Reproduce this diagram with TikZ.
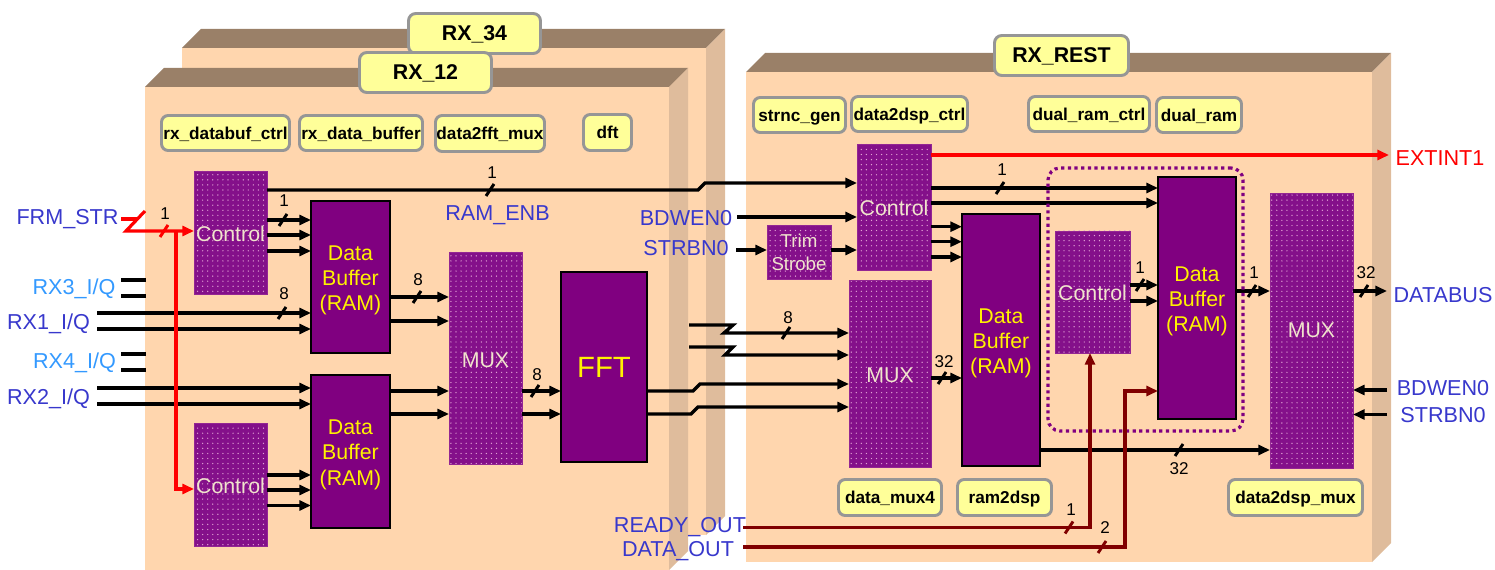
\documentclass[tikz,border=0pt]{standalone}
\usepackage{fontspec}
\setmainfont{Liberation Sans}
\usetikzlibrary{arrows.meta,patterns.meta}
\definecolor{peach}{HTML}{FFD6AE}
\definecolor{panelTop}{HTML}{9A8068}
\definecolor{panelSide}{HTML}{DFBC9C}
\definecolor{blockPurple}{HTML}{800080}
\definecolor{dotBase}{HTML}{84108A}
\definecolor{dotLight}{HTML}{E2A4D4}
\definecolor{labelYellow}{HTML}{FFFF99}
\definecolor{labelGray}{HTML}{969696}
\definecolor{sigBlue}{HTML}{3838CC}
\definecolor{sigLight}{HTML}{3399FF}
\definecolor{softText}{HTML}{F0E4CC}
\definecolor{darkRed}{HTML}{800000}
\tikzset{
  solidblock/.style={draw=black,line width=1.1pt,fill=blockPurple,text=yellow,align=center,inner sep=0pt,outer sep=0pt,
    font=\fontsize{16}{19}\selectfont},
  dotblock/.style={draw=blockPurple!85!white,line width=.4pt,preaction={fill=dotBase},
    pattern={Dots[radius=.52pt,distance=3.8pt]},pattern color=dotLight,
    inner sep=0pt,outer sep=0pt,align=center,text=softText,font=\fontsize{16}{17.5}\selectfont},
  tag/.style={draw=labelGray,line width=2.2pt,fill=labelYellow,rounded corners=5pt,inner sep=0pt,outer sep=0pt,
    font=\fontsize{12.9}{15}\bfseries\selectfont,text=black,text height=9.4pt,text depth=0pt},
  bigtag/.style={tag,rounded corners=5.5pt,font=\fontsize{16}{19}\bfseries\selectfont,text height=11.2pt},
  sig/.style={anchor=base,inner sep=0pt,text=sigBlue,font=\fontsize{16.2}{19}\selectfont},
  siglight/.style={sig,text=sigLight},
  sigred/.style={sig,text=red},
  bus/.style={anchor=base,inner sep=0pt,font=\fontsize{12.8}{15}\selectfont,text=black},
  wire/.style={draw=black,line width=2.5pt},
  wirea/.style={wire,-{Triangle[length=8.7pt,width=7.4pt]}},
  thinwirea/.style={wirea,line width=2.3pt},
  redwire/.style={wirea,draw=red,line width=2.4pt},
  brownwire/.style={wirea,draw=darkRed,line width=2.3pt},
  slash/.style={draw=black,line width=2.2pt},
  redslash/.style={slash,draw=red},
  brownslash/.style={slash,draw=darkRed},
  dottedbox/.style={draw=blockPurple,line width=2.4pt,rounded corners=9pt,dash pattern=on 2.4pt off 2.6pt,inner sep=0pt,outer sep=0pt},
}
\newcommand{\dbtext}{\rule{0pt}{16pt}Data\\Buffer\\(RAM)}
\newcommand{\ctext}{\rule{0pt}{13pt}Control}
% name x1 y1 x2 y2 style text
\newcommand{\blockn}[7]{\node[#6,minimum width={(#4-#2)*0.75pt},minimum height={(#5-#3)*0.75pt}] (#1) at ({(#2+#4)/2},{(#3+#5)/2}) {#7};}
\newcommand{\tagn}[7]{\node[#6,minimum width={(#4-#2-3)*0.75pt},minimum height={(#5-#3-3)*0.75pt}] (#1) at ({(#2+#4)/2},{(#3+#5)/2}) {#7};}
\newcommand{\panel}[4]{% x1 top x2 bottom, offset 19
  \fill[panelTop] (#1,#2) -- ++(19,-19) -- ({#3+19},{#2-19}) -- (#3,#2) -- cycle;
  \fill[panelSide] (#3,#2) -- ++(19,-19) -- ({#3+19},{#4-19}) -- (#3,#4) -- cycle;
  \fill[peach] (#1,#2) rectangle (#3,#4);}
\newcommand{\slashat}[3][slash]{\path[#1] (#2,#3) ++(-4,6) -- ++(8,-12);}
\begin{document}
\begin{tikzpicture}[x=0.75pt,y=-0.75pt]
\useasboundingbox (0,0) rectangle (1495,570);
% panels
\panel{182}{48}{706}{535}
\tagn{rx34}{407}{12}{542}{55}{bigtag}{RX\_34}
\panel{145}{87}{669}{570}
\tagn{rx12}{358}{51}{493}{94}{bigtag}{RX\_12}
\panel{746}{72}{1372}{562}
\tagn{rxrest}{993}{34}{1130}{77}{bigtag}{RX\_REST}
% module tags
\tagn{t1}{160}{114}{291}{152}{tag}{rx\_databuf\_ctrl}
\tagn{t2}{298}{114}{424}{152}{tag}{rx\_data\_buffer}
\tagn{t3}{434}{114}{546}{153}{tag}{data2fft\_mux}
\tagn{t4}{582}{113}{633}{152}{tag}{dft}
\tagn{t5}{752}{96}{847}{134}{tag}{strnc\_gen}
\tagn{t6}{850}{95}{969}{133}{tag}{data2dsp\_ctrl}
\tagn{t7}{1027}{95}{1151}{133}{tag}{dual\_ram\_ctrl}
\tagn{t8}{1155}{96}{1243}{134}{tag}{dual\_ram}
\tagn{t9}{837}{478}{943}{517}{tag}{data\_mux4}
\tagn{t10}{956}{478}{1053}{517}{tag}{ram2dsp}
\tagn{t11}{1227}{478}{1364}{517}{tag}{data2dsp\_mux}
% blocks
\blockn{c1}{194}{171}{267}{294}{dotblock}{\ctext}
\blockn{c2}{194}{423}{267}{546}{dotblock}{\ctext}
\blockn{db1}{311}{201}{390}{353}{solidblock}{\dbtext}
\blockn{db2}{311}{375}{390}{528}{solidblock}{\dbtext}
\blockn{mux1}{449}{252}{522}{464}{dotblock}{\rule{0pt}{14.5pt}MUX}
\blockn{fft}{561}{272}{647}{462}{solidblock,font=\fontsize{22}{26}\selectfont}{FFT}
\blockn{c3}{857}{144}{931}{270}{dotblock}{\ctext}
\blockn{trim}{767}{225}{831}{279}{dotblock,font=\fontsize{14}{17.5}\selectfont}{Trim\\Strobe}
\blockn{mux2}{849}{280}{931}{467}{dotblock}{\rule{0pt}{13pt}MUX}
\blockn{db3}{962}{214}{1040}{466}{solidblock}{\dbtext}
\blockn{c4}{1055}{231}{1130}{353}{dotblock}{\ctext}
\blockn{db4}{1158}{177}{1236}{419}{solidblock}{\dbtext}
\blockn{mux3}{1270}{193}{1353}{468}{dotblock}{MUX}
% signal names
\node[sig] (frm) at (67.5,225) {FRM\_STR};
\node[siglight] (rx3) at (74,295) {RX3\_I/Q};
\node[sig] (rx1) at (48.5,329) {RX1\_I/Q};
\node[siglight] (rx4) at (74.5,368) {RX4\_I/Q};
\node[sig] (rx2) at (48.5,404) {RX2\_I/Q};
\node[sig] (ramenb) at (497.5,221) {RAM\_ENB};
\node[sig] (bdw) at (686,226) {BDWEN0};
\node[sig] (str) at (686,256) {STRBN0};
\node[sig] (ready) at (680,532) {READY\_OUT};
\node[sig] (dataout) at (678,556) {DATA\_OUT};
\node[sigred] (ext) at (1440,166) {EXTINT1};
\node[sig] (databus) at (1443,302) {DATABUS};
\node[sig] (bdwr) at (1443,395) {BDWEN0};
\node[sig] (strr) at (1443,422) {STRBN0};
% free ends
\coordinate (frmA) at (121,219); \coordinate (frmB) at (137,219);
\coordinate (frmC) at (145,211); \coordinate (frmD) at (126,231);
\coordinate (rx3a) at (121,280); \coordinate (rx3b) at (146,280);
\coordinate (rx3c) at (121,296); \coordinate (rx3d) at (146,296);
\coordinate (rx4a) at (121,354); \coordinate (rx4b) at (146,354);
\coordinate (rx4c) at (121,370); \coordinate (rx4d) at (146,370);
\coordinate (rx1a) at (97,313); \coordinate (rx1b) at (97,329);
\coordinate (rx2a) at (97,388); \coordinate (rx2b) at (97,404);
\coordinate (bdwS) at (737,217); \coordinate (strS) at (736,250);
\coordinate (extE) at (1389,155); \coordinate (dbE) at (1387,291);
\coordinate (bdwrS) at (1387,390); \coordinate (strrS) at (1387,414.5);
\coordinate (up1) at (689,325); \coordinate (up2) at (689,347);
\coordinate (readyS) at (743,527.5); \coordinate (dataS) at (743,547);
% left wires
\draw[wire] (rx3a) -- (rx3b);
\draw[wire] (rx3c) -- (rx3d);
\draw[wire] (rx4a) -- (rx4b);
\draw[wire] (rx4c) -- (rx4d);
\draw[wirea] (rx1a) -- (db1.west |- rx1a);
\draw[wirea] (rx1b) -- (db1.west |- rx1b);
\draw[wirea] (rx2a) -- (db2.west |- rx2a);
\draw[wirea] (rx2b) -- (db2.west |- rx2b);
\draw[wirea] (c1.east |- 0,220) -- (db1.west |- 0,220);
\draw[wirea] (c1.east |- 0,235) -- (db1.west |- 0,235);
\draw[wirea] (c1.east |- 0,251) -- (db1.west |- 0,251);
\draw[wirea] (c2.east |- 0,475) -- (db2.west |- 0,475);
\draw[wirea] (c2.east |- 0,490) -- (db2.west |- 0,490);
\draw[wirea] (c2.east |- 0,505.5) -- (db2.west |- 0,505.5);
\draw[wirea] (c1.east |- 0,190) -- (698,190) -- (705,183) -- (c3.west |- 0,183);
\draw[wirea] (db1.east |- 0,297) -- (mux1.west |- 0,297);
\draw[wirea] (db1.east |- 0,321) -- (mux1.west |- 0,321);
\draw[wirea] (db2.east |- 0,391) -- (mux1.west |- 0,391);
\draw[wirea] (db2.east |- 0,414) -- (mux1.west |- 0,414);
\draw[wirea] (mux1.east |- 0,391) -- (fft.west |- 0,391);
\draw[wirea] (mux1.east |- 0,414) -- (fft.west |- 0,414);
\draw[wirea] (fft.east |- 0,391) -- (693,391) -- (700,384) -- (mux2.west |- 0,384);
\draw[wirea] (fft.east |- 0,414) -- (691,414) -- (698,407) -- (mux2.west |- 0,407);
\draw[wirea] (up1) -- (733,325) -- (724,333) -- (mux2.west |- 0,333);
\draw[wirea] (up2) -- (733,347) -- (725,355) -- (mux2.west |- 0,355);
% right wires
\draw[wirea] (bdwS) -- (c3.west |- bdwS);
\draw[wirea] (strS) -- (trim.west |- strS);
\draw[wirea] (trim.east |- strS) -- (c3.west |- strS);
\draw[wirea] (c3.east |- 0,226.7) -- (db3.west |- 0,226.7);
\draw[wirea] (c3.east |- 0,241.7) -- (db3.west |- 0,241.7);
\draw[wirea] (c3.east |- 0,257) -- (db3.west |- 0,257);
\draw[wirea] (c3.east |- 0,188) -- (db4.west |- 0,188);
\draw[wirea] (c3.east |- 0,203) -- (db4.west |- 0,203);
\draw[wirea] (mux2.east |- 0,378) -- (db3.west |- 0,378);
\draw[wirea] (c4.east |- 0,285) -- (db4.west |- 0,285);
\draw[wirea] (c4.east |- 0,301) -- (db4.west |- 0,301);
\draw[wirea] (db4.east |- 0,291) -- (mux3.west |- 0,291);
\draw[wirea] (mux3.east |- 0,291) -- (dbE);
\draw[wirea] (bdwrS) -- (mux3.east |- bdwrS);
\draw[wirea] (strrS) -- (mux3.east |- strrS);
\draw[thinwirea] (db3.east |- 0,450) -- (mux3.west |- 0,450);
% dotted enclosure
\node[dottedbox,minimum width={195*0.75pt},minimum height={263*0.75pt}] (dual) at (1145.5,299.5) {};
% red wires
\draw[wire,draw=red,line width=2.4pt] (frmA) -- (frmB);
\draw[redwire] (frmC) -- (frmD) -- (c1.west |- frmD);
\draw[redwire] (176,231) -- (176,489) -- (c2.west |- 0,489);
\draw[redwire] (c3.east |- extE) -- (extE);
% dark red wires
\draw[brownwire] (readyS) -- (1090,527.5) -- (c4.south -| 1090,0);
\draw[brownwire] (dataS) -- (1125,547) -- (1125,391) -- (db4.west |- 0,391);
% bus slashes
\slashat[redslash]{164}{231}
\slashat{283}{220}
\slashat{282}{313}
\slashat{417}{297}
\slashat{490}{190}
\slashat{535}{391}
\slashat{786}{333}
\slashat{942}{378}
\slashat{1000}{188}
\slashat{1140}{285}
\slashat{1252}{291}
\slashat{1364}{291}
\slashat{1179}{450}
\slashat[brownslash]{1069}{527.5}
\slashat[brownslash]{1102}{547}
% bus widths
\node[bus] (n1) at (165,220) {1};
\node[bus] (n2) at (284,207) {1};
\node[bus] (n3) at (284,300) {8};
\node[bus] (n4) at (418,286) {8};
\node[bus] (n5) at (492,179) {1};
\node[bus] (n6) at (537,380) {8};
\node[bus] (n7) at (788,323) {8};
\node[bus] (n8) at (944,367) {32};
\node[bus] (n9) at (1002,176) {1};
\node[bus] (n10) at (1140,273) {1};
\node[bus] (n11) at (1254,279) {1};
\node[bus] (n12) at (1366,279) {32};
\node[bus] (n13) at (1179,474) {32};
\node[bus] (n14) at (1071,515) {1};
\node[bus] (n15) at (1105,533) {2};
\end{tikzpicture}
\end{document}
